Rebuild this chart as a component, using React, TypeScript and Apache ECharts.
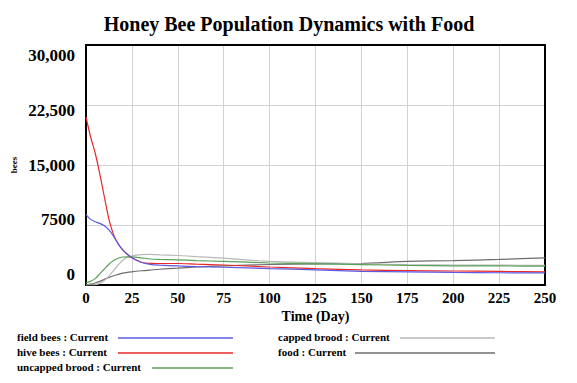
import React, { useEffect, useRef } from "react";
import * as echarts from "echarts";

const time = [0, 2.5, 5, 7.5, 10, 12.5, 15, 17.5, 20, 22.5, 25, 30, 35, 40, 50, 60, 75, 100, 125, 150, 175, 200, 225, 250];

const fieldBees = [8800, 8200, 7900, 7700, 7400, 6900, 6100, 5150, 4400, 3850, 3400, 2850, 2580, 2480, 2380, 2300, 2220, 2050, 1900, 1700, 1650, 1580, 1530, 1520];
const hiveBees = [21000, 18500, 16500, 13900, 11000, 8200, 6300, 5150, 4400, 3850, 3400, 2850, 2700, 2690, 2690, 2600, 2500, 2250, 2050, 1880, 1800, 1750, 1700, 1650];
const uncappedBrood = [300, 450, 800, 1400, 2000, 2600, 3050, 3350, 3500, 3520, 3520, 3400, 3250, 3200, 3150, 3050, 2950, 2750, 2650, 2550, 2450, 2400, 2380, 2350];
const cappedBrood = [0, 0, 50, 200, 550, 1100, 1800, 2500, 3100, 3450, 3650, 3800, 3820, 3770, 3690, 3550, 3350, 2950, 2800, 2650, 2550, 2500, 2480, 2450];
const food = [0, 100, 250, 450, 700, 950, 1150, 1330, 1480, 1580, 1650, 1780, 1870, 1970, 2100, 2250, 2400, 2560, 2650, 2690, 2950, 3050, 3200, 3400];

const seriesNames = ["field bees : Current", "hive bees : Current", "uncapped brood : Current", "capped brood : Current", "food : Current"];
const seriesData = [fieldBees, hiveBees, uncappedBrood, cappedBrood, food];
const seriesColors = ["#5a5ae6", "#e82828", "#5aa05a", "#b8b8b8", "#6e6e6e"];

const yTickValues = [0, 7500, 15000, 22500, 30000];
const yTickLabels = ["0", "7500", "15,000", "22,500", "30,000"];
const xTicks = [0, 25, 50, 75, 100, 125, 150, 175, 200, 225, 250];

const FONT = "'Liberation Serif', 'Times New Roman', serif";

export default function App() {
  const ref = useRef<HTMLDivElement>(null);
  useEffect(() => {
    if (!ref.current) return;
    const chart = echarts.init(ref.current, undefined, { renderer: "svg" });

    // legend layout: [textX, textY, lineX1, lineX2]
    const legendPos = [
      [17, 338, 118, 233],
      [17, 353, 118, 233],
      [17, 368, 152, 233],
      [278, 338, 400, 495],
      [278, 353, 355, 495],
    ];
    const legendGraphics: any[] = [];
    seriesNames.forEach((name, i) => {
      const p = legendPos[i];
      legendGraphics.push({
        type: "text",
        left: p[0],
        top: p[1] - 7,
        style: { text: name, font: `bold 11px ${FONT}`, fill: "#000" },
        silent: true,
      });
      legendGraphics.push({
        type: "line",
        shape: { x1: p[2], y1: p[1], x2: p[3], y2: p[1] },
        style: { stroke: seriesColors[i], lineWidth: 1.5 },
        silent: true,
      });
    });

    const frameAxisLine = { show: true, onZero: false, lineStyle: { color: "#000", width: 2 } };

    chart.setOption({
      animation: false,
      backgroundColor: "#fff",
      title: {
        text: "Honey Bee Population Dynamics with Food",
        left: 284,
        top: 9,
        textAlign: "center",
        textStyle: { fontFamily: FONT, fontWeight: "bold", fontSize: 20, color: "#000" },
      },
      grid: {
        left: 86,
        right: 32,
        top: 45,
        bottom: 98,
        show: true,
        borderColor: "#000",
        borderWidth: 2,
      },
      xAxis: [
        {
          type: "value",
          min: 0,
          max: 250,
          interval: 25,
          position: "bottom",
          name: "Time (Day)",
          nameLocation: "middle",
          nameGap: 22,
          nameTextStyle: { fontFamily: FONT, fontWeight: "bold", fontSize: 14, color: "#000" },
          axisLine: frameAxisLine,
          axisTick: { show: false },
          axisLabel: {
            margin: 5,
            fontFamily: FONT,
            fontWeight: "bold",
            fontSize: 15,
            color: "#000",
            formatter: (v: number) => (xTicks.includes(v) ? String(v) : ""),
          },
          splitLine: { show: true, lineStyle: { color: "#d2d2d2", width: 1 } },
        },
        {
          type: "value",
          min: 0,
          max: 250,
          position: "top",
          axisLine: frameAxisLine,
          axisTick: { show: false },
          axisLabel: { show: false },
          splitLine: { show: false },
        },
      ],
      yAxis: [
        {
          type: "value",
          min: 0,
          max: 30000,
          interval: 7500,
          position: "right",
          name: "bees",
          nameLocation: "middle",
          nameRotate: 90,
          nameGap: -536,
          nameTextStyle: { fontFamily: FONT, fontWeight: "bold", fontSize: 9, color: "#000" },
          axisLine: frameAxisLine,
          axisTick: { show: false },
          axisLabel: { show: false },
          splitLine: { show: true, lineStyle: { color: "#d2d2d2", width: 1 } },
        },
        {
          type: "value",
          position: "left",
          min: -1364,
          max: 31364,
          axisLine: frameAxisLine,
          axisTick: { show: false },
          splitLine: { show: false },
          axisLabel: {
            customValues: yTickValues,
            margin: 11,
            fontFamily: FONT,
            fontWeight: "bold",
            fontSize: 17,
            color: "#000",
            formatter: (v: number) => {
              const idx = yTickValues.indexOf(Math.round(v));
              return idx >= 0 ? yTickLabels[idx] : "";
            },
          },
        },
      ],
      series: seriesNames.map((name, i) => ({
        name,
        type: "line",
        yAxisIndex: 0,
        showSymbol: false,
        symbol: "none",
        smooth: 0.2,
        lineStyle: { color: seriesColors[i], width: 1.2 },
        itemStyle: { color: seriesColors[i] },
        data: time.map((t, k) => [t, seriesData[i][k]]),
        z: 5 - i,
      })),
      graphic: legendGraphics,
    });
    return () => chart.dispose();
  }, []);
  return (
    <div
      ref={ref}
      style={{ position: "fixed", left: 0, top: 0, width: 577, height: 383 }}
    />
  );
}
